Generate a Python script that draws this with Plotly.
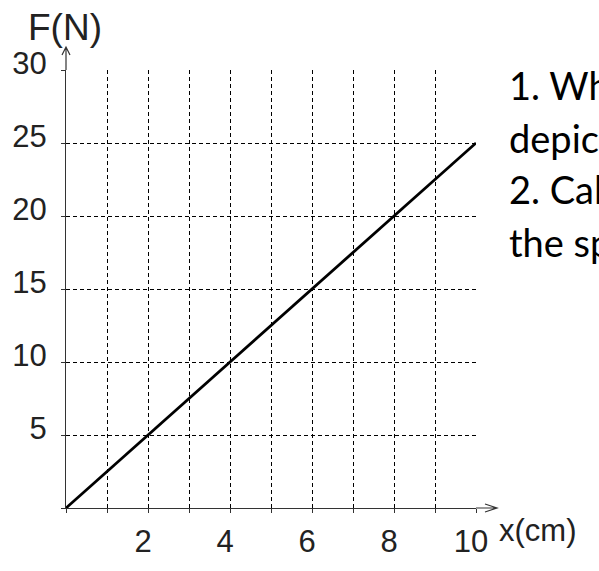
import plotly.graph_objects as go

# ---- data ----
x_cm = [0, 2, 4, 6, 8, 10]
force_N = [0, 5, 10, 15, 20, 25]

x_tickvals = [0, 1, 2, 3, 4, 5, 6, 7, 8, 9, 10]
x_ticktext = ["", "", "2", "", "4", "", "6", "", "8", "", "10"]
y_tickvals = [0, 5, 10, 15, 20, 25, 30]
y_ticktext = ["", "5", "10", "15", "20", "25", "30"]

question_lines = [
    "1. What kind of dependence is",
    "depicted in the graph?",
    "2. Calculate the stiffness of",
    "the spring.",
]

W, H = 599, 571
L, R, T, B = 61, 123, 70, 42
pw, ph = W - L - R, H - T - B

def px_x(p):
    return (p - L) / pw

def px_y(p):
    return (H - B - p) / ph

fig = go.Figure()
fig.add_trace(go.Scatter(
    x=x_cm, y=force_N, mode="lines",
    line=dict(color="black", width=2.8),
    hoverinfo="skip", showlegend=False,
))

tick_font = dict(family="Liberation Sans, Arial, sans-serif", size=31, color="#222")

fig.update_layout(
    width=W, height=H,
    margin=dict(l=L, r=R, t=T, b=B, pad=0),
    paper_bgcolor="white", plot_bgcolor="white",
    xaxis=dict(
        range=[0, 10], tickmode="array", tickvals=x_tickvals, ticktext=x_ticktext,
        showgrid=True, gridcolor="black", gridwidth=1, griddash="4px,3px",
        zeroline=False, showline=True, linecolor="#333", linewidth=1.2,
        ticks="outside", ticklen=4, tickcolor="#333", tickwidth=1,
        tickfont=tick_font, ticklabelshift=-5, ticklabelstandoff=2,
        fixedrange=True,
    ),
    yaxis=dict(
        range=[0, 30], tickmode="array", tickvals=y_tickvals, ticktext=y_ticktext,
        showgrid=True, gridcolor="black", gridwidth=1, griddash="4px,3px",
        zeroline=False, showline=True, linecolor="#333", linewidth=1.2,
        ticks="outside", ticklen=4, tickcolor="#333", tickwidth=1,
        tickfont=tick_font, ticklabelshift=-7, ticklabelstandoff=8,
        fixedrange=True,
    ),
)

# axis arrows (extensions beyond the plotted range)
arrow_style = dict(color="#333", width=1.2)
fig.add_shape(type="path", xref="paper", yref="paper", xsizemode="pixel", ysizemode="pixel",
              xanchor=1, yanchor=0, path="M0,0 L21,0 M9,4 L21,0 L9,-4",
              line=arrow_style, layer="above")
fig.add_shape(type="path", xref="paper", yref="paper", xsizemode="pixel", ysizemode="pixel",
              xanchor=0, yanchor=1, path="M0,0 L0,23 M-4,15 L0,23 L4,15",
              line=arrow_style, layer="above")

# axis titles
fig.add_annotation(text="F(N)", xref="paper", yref="paper", x=px_x(60), y=px_y(25),
                   xanchor="center", yanchor="middle", showarrow=False,
                   font=dict(family="Liberation Sans, Arial, sans-serif", size=37, color="#222"))
fig.add_annotation(text="x(cm)", xref="paper", yref="paper", x=px_x(497), y=px_y(553),
                   xanchor="left", yanchor="middle", showarrow=False,
                   font=tick_font)

# question text on the right
baselines = [99, 154, 208, 263]
for line, bl in zip(question_lines, baselines):
    fig.add_annotation(text=line, xref="paper", yref="paper", x=px_x(507), y=px_y(bl - 13),
                       xanchor="left", yanchor="middle", showarrow=False,
                       font=dict(family="Lato, Calibri, sans-serif", size=38, color="black"))

fig.write_html("out.html")
